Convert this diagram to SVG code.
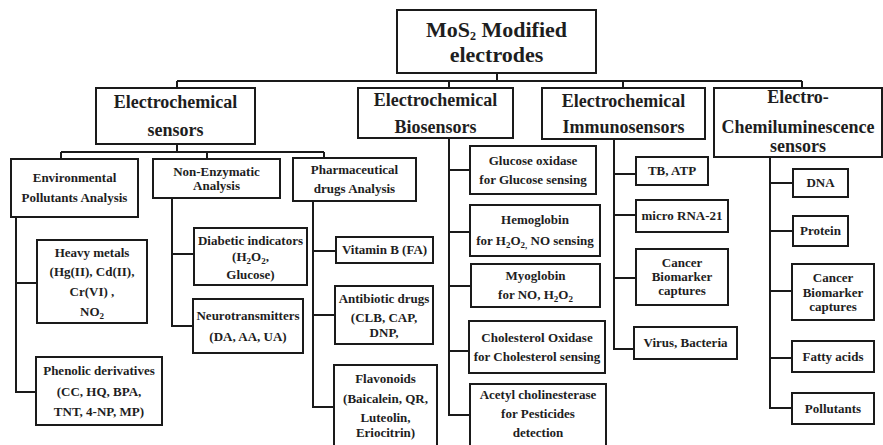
<svg xmlns="http://www.w3.org/2000/svg" width="883" height="445" viewBox="0 0 883 445">
<style>
rect{fill:#fff;stroke:#1a1a1a;stroke-width:2}
.c path{fill:none;stroke:#1a1a1a;stroke-width:2}
text{font-family:"Liberation Serif","Times New Roman",serif;font-weight:bold;fill:#1e1e1e;text-anchor:middle}
.t0{font-size:22px}
.t1{font-size:18px}
.t2{font-size:13px}
</style>
<rect x="0" y="0" width="883" height="445" style="fill:#fff;stroke:none"/>
<g class="c" id="connectors">
<path d="M497,73V81M177,81H802M177,81V88M449,81V88M623,81V88M802,81V88"/>
<path d="M177,144V152M61,152H324M61,152V159M207,152V159M324,152V158"/>
<path d="M16,217V392H36M16,283H37"/>
<path d="M172,198V326H193M172,254H194"/>
<path d="M313,201V407H334M313,251H336M313,315H335"/>
<path d="M449,138V415H470M449,170H470M449,232H470M449,286H471M449,351H469"/>
<path d="M614,139V349H634M614,174H636M614,215H636M614,278H636"/>
<path d="M770,157V408H792M770,183H793M770,231H793M770,291H792M770,358H792"/>
</g>
<g id="root"><rect x="397" y="10" width="199" height="63"/>
<text class="t0" x="496.5" y="37">MoS<tspan font-size="12" dy="3">2</tspan><tspan dy="-3"> Modified</tspan></text>
<text class="t0" x="496.5" y="62">electrodes</text></g>
<g id="ec-sensors"><rect x="96" y="88" width="159" height="56"/>
<text class="t1" x="175.5" y="108">Electrochemical</text><text class="t1" x="175.5" y="136">sensors</text></g>
<g id="ec-biosensors"><rect x="358" y="88" width="155" height="50"/>
<text class="t1" x="435.5" y="106">Electrochemical</text><text class="t1" x="435.5" y="133">Biosensors</text></g>
<g id="ec-immunosensors"><rect x="542" y="88" width="163" height="51"/>
<text class="t1" x="623.5" y="107">Electrochemical</text><text class="t1" x="623.5" y="133">Immunosensors</text></g>
<g id="ecl-sensors"><rect x="714" y="88" width="168" height="69"/>
<text class="t1" x="798" y="103">Electro-</text><text class="t1" x="798" y="133">Chemiluminescence</text><text class="t1" x="798" y="152">sensors</text></g>

<g id="environmental"><rect x="11" y="159" width="127" height="58"/>
<text class="t2" x="74.5" y="182">Environmental</text><text class="t2" x="74.5" y="202">Pollutants Analysis</text></g>
<g id="non-enzymatic"><rect x="153" y="159" width="127" height="39"/>
<text class="t2" x="216.5" y="176">Non-Enzymatic</text><text class="t2" x="216.5" y="190">Analysis</text></g>
<g id="pharmaceutical"><rect x="293" y="158" width="123" height="43"/>
<text class="t2" x="354.5" y="174">Pharmaceutical</text><text class="t2" x="354.5" y="193">drugs Analysis</text></g>

<g id="heavy-metals"><rect x="37" y="240" width="110" height="83"/>
<text class="t2" x="92" y="257">Heavy metals</text><text class="t2" x="92" y="276">(Hg(II), Cd(II),</text><text class="t2" x="92" y="296">Cr(VI) ,</text><text class="t2" x="92" y="316">NO<tspan font-size="9" dy="3">2</tspan></text></g>
<g id="phenolic"><rect x="36" y="357" width="126" height="68"/>
<text class="t2" x="99" y="375">Phenolic derivatives</text><text class="t2" x="99" y="396">(CC, HQ, BPA,</text><text class="t2" x="99" y="416">TNT, 4-NP, MP)</text></g>
<g id="diabetic"><rect x="194" y="228" width="113" height="57"/>
<text class="t2" x="250.5" y="245">Diabetic indicators</text><text class="t2" x="250.5" y="261">(H<tspan font-size="9" dy="3">2</tspan><tspan dy="-3">O</tspan><tspan font-size="9" dy="3">2</tspan><tspan dy="-3">,</tspan></text><text class="t2" x="250.5" y="279">Glucose)</text></g>
<g id="neurotransmitters"><rect x="193" y="299" width="110" height="54"/>
<text class="t2" x="248" y="320">Neurotransmitters</text><text class="t2" x="248" y="341">(DA, AA, UA)</text></g>
<g id="vitamin-b"><rect x="336" y="237" width="97" height="26"/>
<text class="t2" x="384.5" y="254">Vitamin B (FA)</text></g>
<g id="antibiotic"><rect x="335" y="286" width="98" height="58"/>
<text class="t2" x="384" y="303">Antibiotic drugs</text><text class="t2" x="384" y="322">(CLB, CAP,</text><text class="t2" x="384" y="337">DNP,</text></g>
<g id="flavonoids"><rect x="334" y="365" width="103" height="85"/>
<text class="t2" x="385.5" y="383">Flavonoids</text><text class="t2" x="385.5" y="403">(Baicalein, QR,</text><text class="t2" x="385.5" y="422">Luteolin,</text><text class="t2" x="385.5" y="437">Eriocitrin)</text></g>

<g id="glucose-oxidase"><rect x="470" y="146" width="126" height="48"/>
<text class="t2" x="533" y="165">Glucose oxidase</text><text class="t2" x="533" y="184">for Glucose sensing</text></g>
<g id="hemoglobin"><rect x="470" y="205" width="130" height="51"/>
<text class="t2" x="535" y="224">Hemoglobin</text><text class="t2" x="535" y="245">for H<tspan font-size="9" dy="3">2</tspan><tspan dy="-3">O</tspan><tspan font-size="9" dy="3">2,</tspan><tspan dy="-3"> NO sensing</tspan></text></g>
<g id="myoglobin"><rect x="471" y="264" width="129" height="43"/>
<text class="t2" x="535.5" y="280">Myoglobin</text><text class="t2" x="535.5" y="299">for NO, H<tspan font-size="9" dy="3">2</tspan><tspan dy="-3">O</tspan><tspan font-size="9" dy="3">2</tspan></text></g>
<g id="cholesterol"><rect x="469" y="321" width="136" height="52"/>
<text class="t2" x="537" y="342">Cholesterol Oxidase</text><text class="t2" x="537" y="361">for Cholesterol sensing</text></g>
<g id="acetylcholinesterase"><rect x="470" y="384" width="136" height="66"/>
<text class="t2" x="538" y="399">Acetyl cholinesterase</text><text class="t2" x="538" y="418">for Pesticides</text><text class="t2" x="538" y="437">detection</text></g>

<g id="tb-atp"><rect x="636" y="157" width="72" height="28"/>
<text class="t2" x="672" y="175">TB, ATP</text></g>
<g id="microrna"><rect x="636" y="200" width="92" height="32"/>
<text class="t2" x="682" y="220">micro RNA-21</text></g>
<g id="cancer-immuno"><rect x="636" y="249" width="92" height="56"/>
<text class="t2" x="682" y="267">Cancer</text><text class="t2" x="682" y="281">Biomarker</text><text class="t2" x="682" y="295">captures</text></g>
<g id="virus"><rect x="634" y="327" width="103" height="32"/>
<text class="t2" x="685.5" y="347">Virus, Bacteria</text></g>

<g id="dna"><rect x="793" y="169" width="55" height="28"/>
<text class="t2" x="820.5" y="187">DNA</text></g>
<g id="protein"><rect x="793" y="216" width="55" height="30"/>
<text class="t2" x="820.5" y="235">Protein</text></g>
<g id="cancer-ecl"><rect x="792" y="264" width="82" height="56"/>
<text class="t2" x="833" y="282">Cancer</text><text class="t2" x="833" y="297">Biomarker</text><text class="t2" x="833" y="311">captures</text></g>
<g id="fatty-acids"><rect x="792" y="341" width="82" height="31"/>
<text class="t2" x="833" y="361">Fatty acids</text></g>
<g id="pollutants"><rect x="792" y="393" width="82" height="31"/>
<text class="t2" x="833" y="413">Pollutants</text></g>
</svg>
